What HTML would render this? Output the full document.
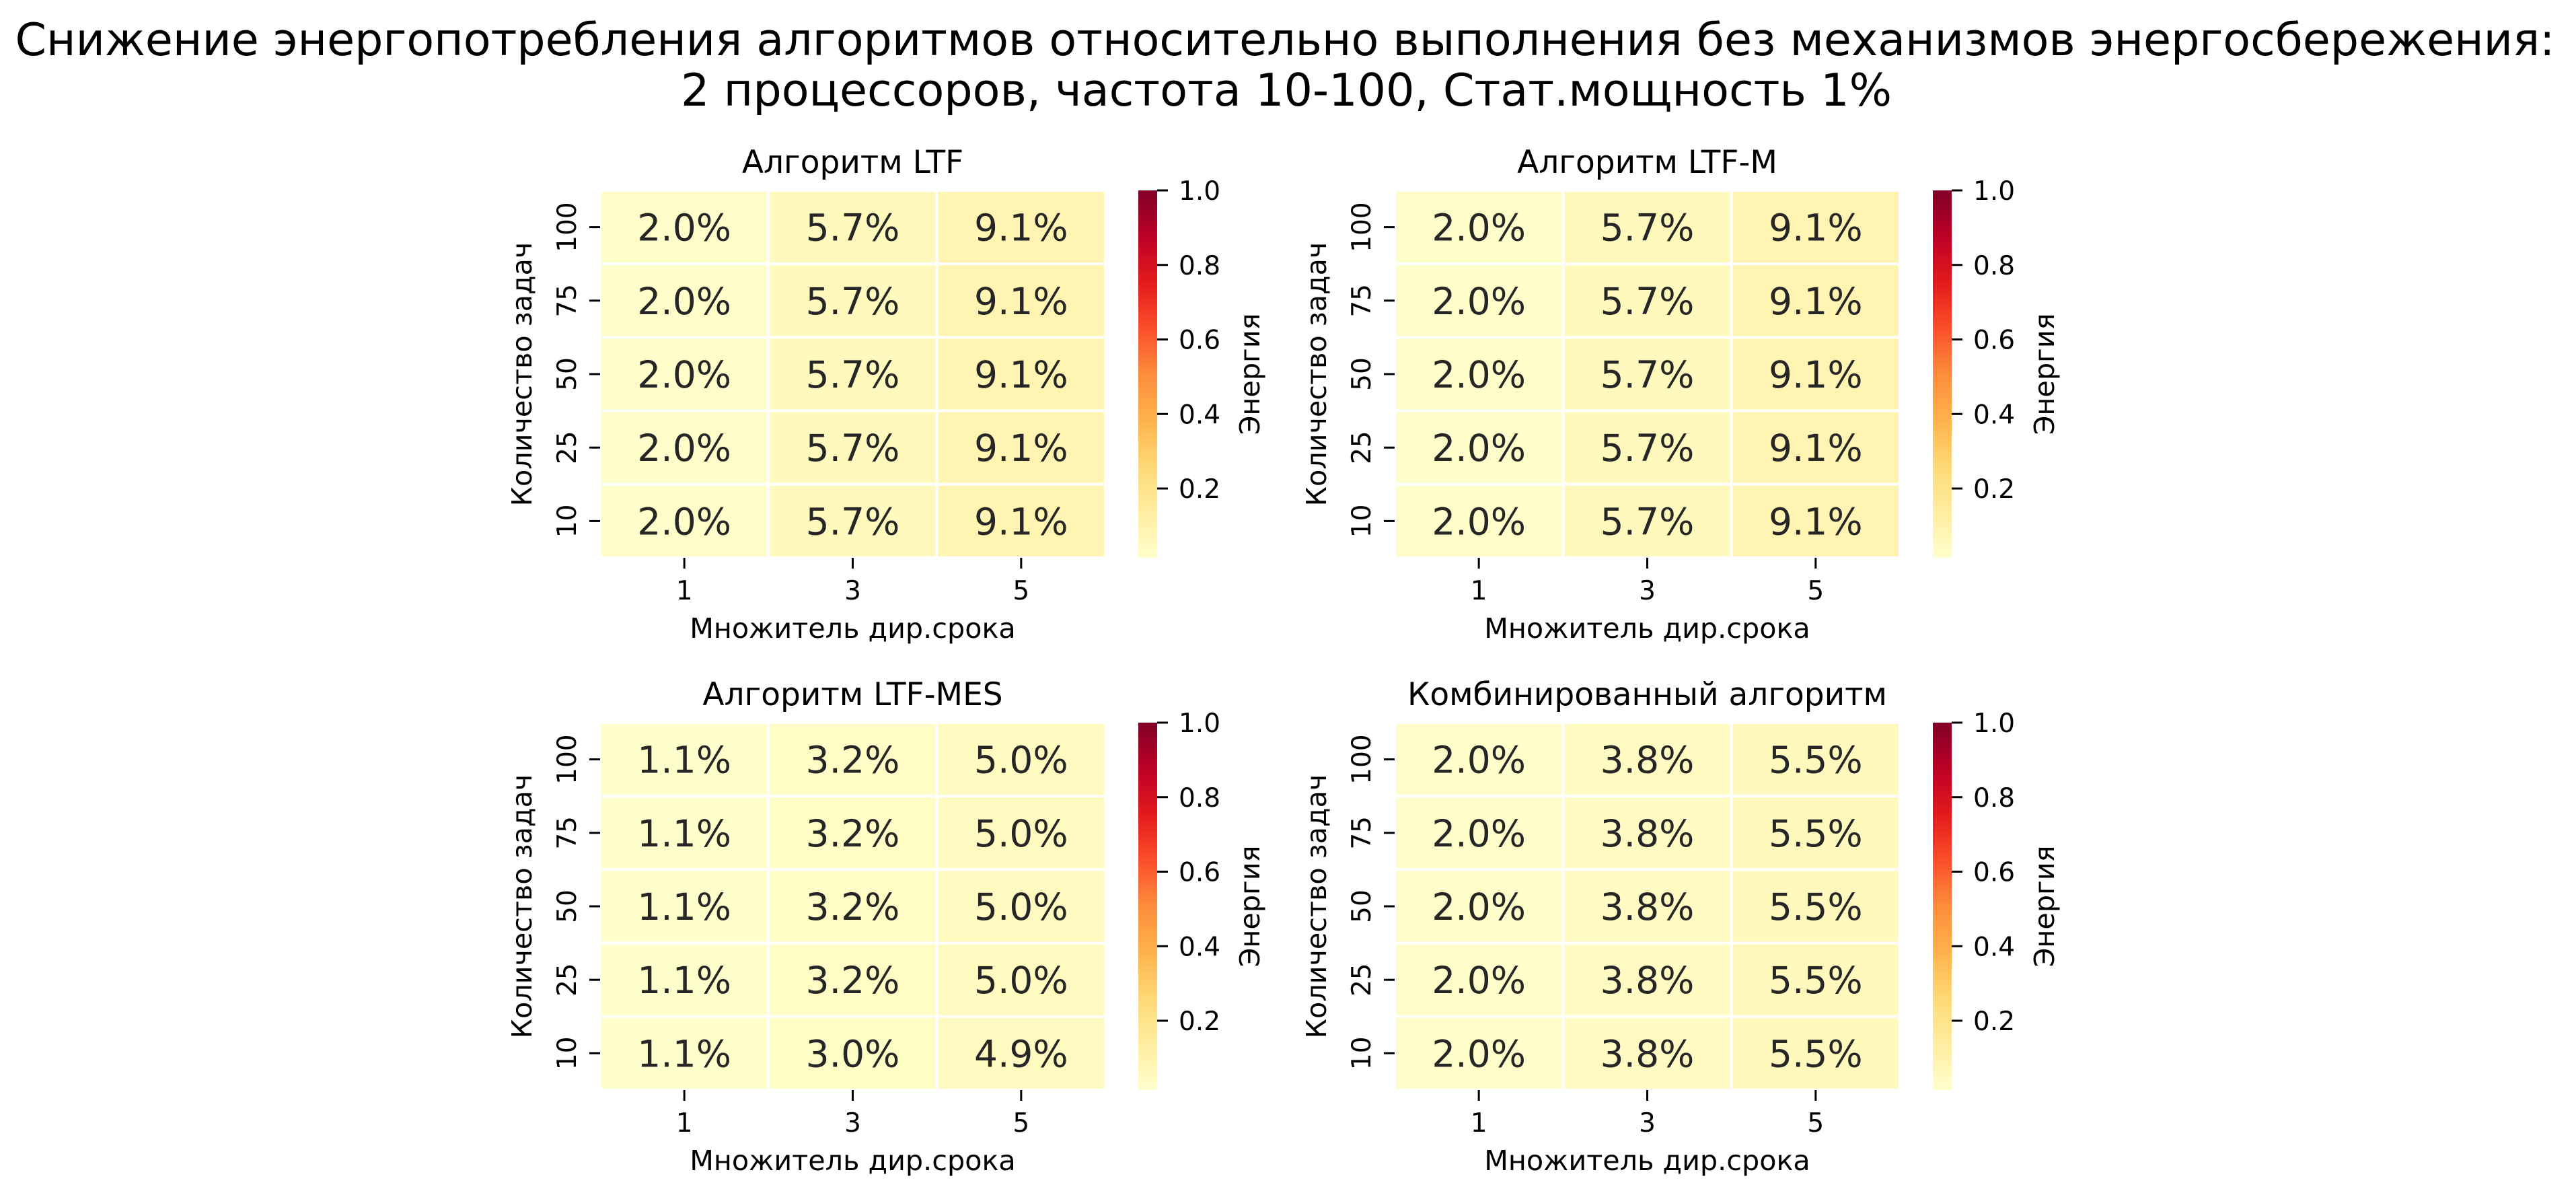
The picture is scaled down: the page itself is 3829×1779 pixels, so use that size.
<!DOCTYPE html>
<html><head><meta charset="utf-8"><style>
html,body{margin:0;padding:0;background:#fff;}
svg{display:block;font-family:"DejaVu Sans","Liberation Sans",sans-serif;}
</style></head><body>
<svg id="chart" width="3829" height="1779" viewBox="0 0 3829 1779" xmlns="http://www.w3.org/2000/svg">
<defs>
<linearGradient id="ylorrd" x1="0" y1="1" x2="0" y2="0">
<stop offset="0" stop-color="#ffffcc"/><stop offset="0.125" stop-color="#ffeda0"/><stop offset="0.25" stop-color="#fed976"/><stop offset="0.375" stop-color="#feb24c"/><stop offset="0.5" stop-color="#fd8d3c"/><stop offset="0.625" stop-color="#fc4e2a"/><stop offset="0.75" stop-color="#e31a1c"/><stop offset="0.875" stop-color="#bd0026"/><stop offset="1" stop-color="#800026"/>
</linearGradient>
</defs>
<text x="1910" y="82" font-size="67" text-anchor="middle" textLength="3775" lengthAdjust="spacingAndGlyphs">Снижение энергопотребления алгоритмов относительно выполнения без механизмов энергосбережения:</text>
<text x="1912" y="157" font-size="67" text-anchor="middle" textLength="1800" lengthAdjust="spacingAndGlyphs">2 процессоров, частота 10-100, Стат.мощность 1%</text>
</svg>
<script>
const rowLabels = ["100","75","50","25","10"];
const colLabels = ["1","3","5"];
const titles = ["Алгоритм LTF","Алгоритм LTF-M","Алгоритм LTF-MES","Комбинированный алгоритм"];
const valsLTF = [[2.0,5.7,9.1],[2.0,5.7,9.1],[2.0,5.7,9.1],[2.0,5.7,9.1],[2.0,5.7,9.1]];
const valsLTFM = [[2.0,5.7,9.1],[2.0,5.7,9.1],[2.0,5.7,9.1],[2.0,5.7,9.1],[2.0,5.7,9.1]];
const valsLTFMES = [[1.1,3.2,5.0],[1.1,3.2,5.0],[1.1,3.2,5.0],[1.1,3.2,5.0],[1.1,3.0,4.9]];
const valsComb = [[2.0,3.8,5.5],[2.0,3.8,5.5],[2.0,3.8,5.5],[2.0,3.8,5.5],[2.0,3.8,5.5]];
const cbTicks = [0.2,0.4,0.6,0.8,1.0];
const vmin = 0.014, vmax = 1.0;

const stops = [[255,255,204],[255,237,160],[254,217,118],[254,178,76],[253,141,60],[252,78,42],[227,26,28],[189,0,38],[128,0,38]];
function cmap(v){
  let t = Math.max(0, Math.min(1, (v - vmin) / (vmax - vmin)));
  const p = t * 8, i = Math.min(7, Math.floor(p)), f = p - i;
  const a = stops[i], b = stops[i+1];
  return "rgb(" + a.map((c,k) => Math.round(c + (b[k]-c)*f)).join(",") + ")";
}
const NS = "http://www.w3.org/2000/svg";
const svg = document.getElementById("chart");
function mk(tag, attrs, parent, txt){
  const e = document.createElementNS(NS, tag);
  for (const k in attrs) e.setAttribute(k, attrs[k]);
  if (txt !== undefined) e.textContent = txt;
  (parent || svg).appendChild(e);
  return e;
}
const panels = [
  {x:892, y:283, vals:valsLTF},
  {x:2073, y:283, vals:valsLTFM},
  {x:892, y:1074, vals:valsLTFMES},
  {x:2073, y:1074, vals:valsComb}
];
const W = 751, H = 546;
panels.forEach((p, pi) => {
  const g = mk("g", {});
  
  
  const cw = W / colLabels.length, ch = H / rowLabels.length;
  const xPos = c => p.x + c * cw;
  const yPos = r => p.y + r * ch;
  p.vals.forEach((row, r) => row.forEach((v, c) => {
    const rect = mk("rect", {x:xPos(c), y:yPos(r), width:cw, height:ch, fill:cmap(v/100), stroke:"#fff", "stroke-width":4}, g);
    
    
    const t = mk("text", {x:xPos(c)+cw/2, y:yPos(r)+ch/2+20, "font-size":55, "text-anchor":"middle", fill:"#262626"}, g, v.toFixed(1) + "%");
    
    
  }));
  const t = mk("text", {x:p.x+W/2, y:p.y-26, "font-size":47, "text-anchor":"middle"}, g, titles[pi]);
  
  
  rowLabels.forEach((l, r) => {
    const cy = yPos(r) + ch/2;
    mk("line", {x1:p.x-16, x2:p.x, y1:cy, y2:cy, stroke:"#000", "stroke-width":3}, g);
    const tl = mk("text", {x:p.x-36, y:cy, "font-size":39, "text-anchor":"middle", transform:"rotate(-90 " + (p.x-36) + " " + cy + ")"}, g, l);
    
    
  });
  colLabels.forEach((l, c) => {
    const cx = xPos(c) + cw/2;
    mk("line", {x1:cx, x2:cx, y1:p.y+H, y2:p.y+H+16, stroke:"#000", "stroke-width":3}, g);
    const tl = mk("text", {x:cx, y:p.y+H+62, "font-size":39, "text-anchor":"middle"}, g, l);
    
    
  });
  const xl = mk("text", {x:p.x+W/2, y:p.y+H+119, "font-size":41.3, "text-anchor":"middle"}, g, "Множитель дир.срока");
  
  
  const ylx = p.x - 102, yly = p.y + H/2;
  const yl = mk("text", {x:ylx, y:yly, "font-size":41.3, "text-anchor":"middle", transform:"rotate(-90 " + ylx + " " + yly + ")"}, g, "Количество задач");
  
  
  const bx = p.x + W + 49, bw = 28;
  const cb = mk("rect", {x:bx, y:p.y, width:bw, height:H, fill:"url(#ylorrd)"}, g);
  
  
  const cbY = v => p.y + H - (v - vmin) / (vmax - vmin) * H;
  cbTicks.forEach(v => {
    const yy = cbY(v);
    mk("line", {x1:bx+bw, x2:bx+bw+16, y1:yy, y2:yy, stroke:"#000", "stroke-width":3}, g);
    const tl = mk("text", {x:bx+bw+32, y:yy+14, "font-size":39}, g, v.toFixed(1));
    
    
  });
  const clx = bx + 180, cly = p.y + H/2;
  const cl = mk("text", {x:clx, y:cly, "font-size":41.3, "text-anchor":"middle", transform:"rotate(-90 " + clx + " " + cly + ")"}, g, "Энергия");
  
  
});
</script>
</body></html>
